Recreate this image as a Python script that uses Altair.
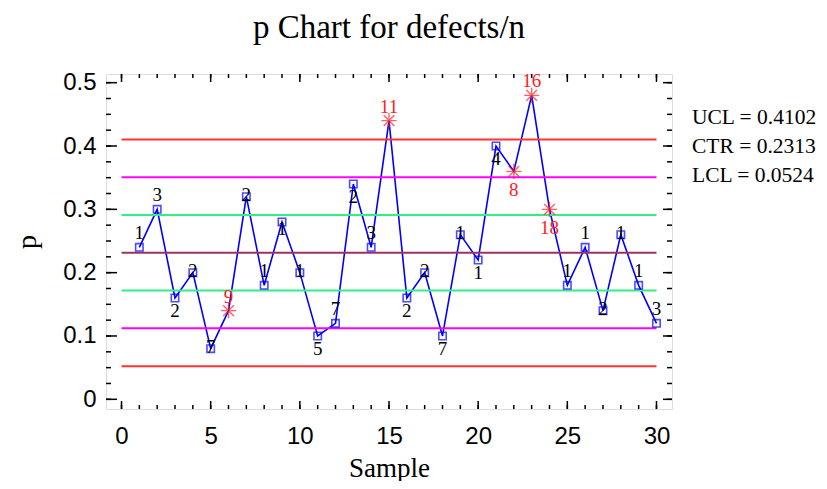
import altair as alt
import pandas as pd

# ---------------- data ----------------
samples = list(range(1, 31))
p_values = [0.24, 0.30, 0.16, 0.20, 0.08, 0.14, 0.32, 0.18, 0.28, 0.20,
            0.10, 0.12, 0.34, 0.24, 0.44, 0.16, 0.20, 0.10, 0.26, 0.22,
            0.40, 0.36, 0.48, 0.30, 0.18, 0.24, 0.14, 0.26, 0.18, 0.12]
run_labels = ["1", "3", "2", "2", "7", "9", "2", "1", "1", "1",
              "5", "7", "2", "3", "11", "2", "2", "7", "1", "1",
              "4", "8", "16", "18", "1", "1", "2", "1", "1", "3"]
flagged_samples = [6, 15, 22, 23, 24]
label_side = ["above", "above", "below", "on", "on", "above", "on", "above", "low", "on",
              "below", "above", "below", "above", "above", "below", "on", "below", "on", "below",
              "below", "below", "above", "below", "above", "above", "on", "on", "above", "above"]

UCL = 0.4102
CTR = 0.2313
LCL = 0.0524
limit_names = ["UCL", "+2s", "+1s", "CTR", "-1s", "-2s", "LCL"]
sigma = (UCL - CTR) / 3.0
limit_values = [UCL, CTR + 2 * sigma, CTR + sigma, CTR, CTR - sigma, CTR - 2 * sigma, LCL]
limit_colors = ["#ff3333", "#ff00ff", "#33ee88", "#993366", "#33ee88", "#ff00ff", "#ff3333"]

x_major = [0, 5, 10, 15, 20, 25, 30]
x_minor = list(range(0, 31))
y_major = [0.0, 0.1, 0.2, 0.3, 0.4, 0.5]
y_minor = [i * 0.025 for i in range(0, 21)]

legend_lines = ["UCL = 0.4102", "CTR = 0.2313", "LCL = 0.0524"]

# ---------------- tables ----------------
pts = pd.DataFrame({
    "sample": samples,
    "p": p_values,
    "label": run_labels,
    "side": label_side,
    "status": ["out" if s in flagged_samples else "in" for s in samples],
})
limits = pd.DataFrame({"name": limit_names, "value": limit_values,
                       "x0": [0] * len(limit_names), "x1": [30] * len(limit_names)})

W, H = 566, 335
xs = alt.Scale(domain=[-0.87, 30.87], nice=False, zero=False)
ys = alt.Scale(domain=[-0.0153, 0.5137], nice=False, zero=False)

SERIF = "Liberation Serif"
SANS = "Liberation Sans"

base = alt.Chart(pts)

# data line carries the axes (first layer)
data_line = base.mark_line(color="#0000ff", strokeWidth=1.6).encode(
    x=alt.X("sample:Q", scale=xs,
            axis=alt.Axis(values=x_major, ticks=False, domain=False, grid=False,
                          labelFont=SANS, labelFontSize=24, labelColor="black",
                          labelPadding=15, title="Sample", titleFont=SERIF,
                          titleFontSize=27, titleFontWeight="normal", titleColor="black",
                          titlePadding=7)),
    y=alt.Y("p:Q", scale=ys,
            axis=alt.Axis(values=y_major, ticks=False, domain=False, grid=False,
                          labelFont=SANS, labelFontSize=24, labelColor="black",
                          labelPadding=10,
                          labelExpr="datum.value == 0 ? '0' : format(datum.value, '.1f')",
                          title="p", titleFont=SERIF, titleFontSize=28,
                          titleFontWeight="normal", titleColor="black", titlePadding=21)),
)

# control lines
lines = alt.Chart(limits).mark_rule(strokeWidth=2).encode(
    x=alt.X("x0:Q", scale=xs),
    x2="x1:Q",
    y=alt.Y("value:Q", scale=ys),
    color=alt.Color("name:N", scale=alt.Scale(domain=limit_names, range=limit_colors), legend=None),
)

squares = base.transform_filter("datum.status == 'in'").mark_point(
    shape="square", size=55, filled=False, color="#0000ff", strokeWidth=1.6
).encode(x=alt.X("sample:Q", scale=xs), y=alt.Y("p:Q", scale=ys))

star_path = "M-1,0L1,0M0,-1L0,1M-0.7,-0.7L0.7,0.7M-0.7,0.7L0.7,-0.7"
stars = base.transform_filter("datum.status == 'out'").mark_point(
    shape=star_path, size=230, filled=False, color="#ff2020", strokeWidth=1.4
).encode(x=alt.X("sample:Q", scale=xs), y=alt.Y("p:Q", scale=ys))

label_color = alt.condition("datum.status == 'out'", alt.value("#ff2020"), alt.value("black"))

def label_layer(cond, dy):
    return base.transform_filter(cond).mark_text(
        font=SERIF, fontSize=19, baseline="middle", align="center", dy=dy
    ).encode(x=alt.X("sample:Q", scale=xs), y=alt.Y("p:Q", scale=ys),
             text="label:N", color=label_color)

label_layers = [
    label_layer("datum.side == 'above'", -14),
    label_layer("datum.side == 'on'", -2),
    label_layer("datum.side == 'low'", 7),
    label_layer("datum.side == 'below' && datum.status == 'in'", 13),
    label_layer("datum.side == 'below' && datum.status == 'out'", 19),
]

# inward tick marks
def xticks(vals, y0, y1):
    return alt.Chart(pd.DataFrame({"sample": vals})).mark_rule(color="black", strokeWidth=1.5).encode(
        x=alt.X("sample:Q", scale=xs), y=alt.value(y0), y2=alt.value(y1))

def yticks(vals, x0, x1):
    return alt.Chart(pd.DataFrame({"p": vals})).mark_rule(color="black", strokeWidth=1.5).encode(
        y=alt.Y("p:Q", scale=ys), x=alt.value(x0), x2=alt.value(x1))

ticks = [
    xticks(x_minor, H, H - 4), xticks(x_major, H, H - 8),
    xticks(x_minor, 0, 4), xticks(x_major, 0, 8),
    yticks(y_minor, 0, 5), yticks(y_major, 0, 11),
    yticks(y_minor, W, W - 5), yticks(y_major, W, W - 9),
]

# title and limit legend text
title_txt = alt.Chart(pd.DataFrame({"t": ["p Chart for defects/n"]})).mark_text(
    font=SERIF, fontSize=33, align="center", baseline="alphabetic", color="black"
).encode(text="t:N", x=alt.value(W / 2), y=alt.value(-36))

legend_y = [44, 73, 102]
legend_layers = [
    alt.Chart(pd.DataFrame({"t": [txt]})).mark_text(
        font=SERIF, fontSize=21.5, align="left", baseline="middle", color="black"
    ).encode(text="t:N", x=alt.value(W + 20), y=alt.value(yy))
    for txt, yy in zip(legend_lines, legend_y)
]

chart = alt.layer(
    data_line, lines, squares, stars,
    *label_layers, *ticks, title_txt, *legend_layers
).properties(
    width=W, height=H,
    autosize=alt.AutoSizeParams(type="none"),
    padding={"left": 98, "top": 66, "right": 147, "bottom": 72},
).configure_view(stroke="black", strokeWidth=2.5).configure(background="white")

chart.save("out.html", embed_options={"renderer": "svg", "actions": False})
